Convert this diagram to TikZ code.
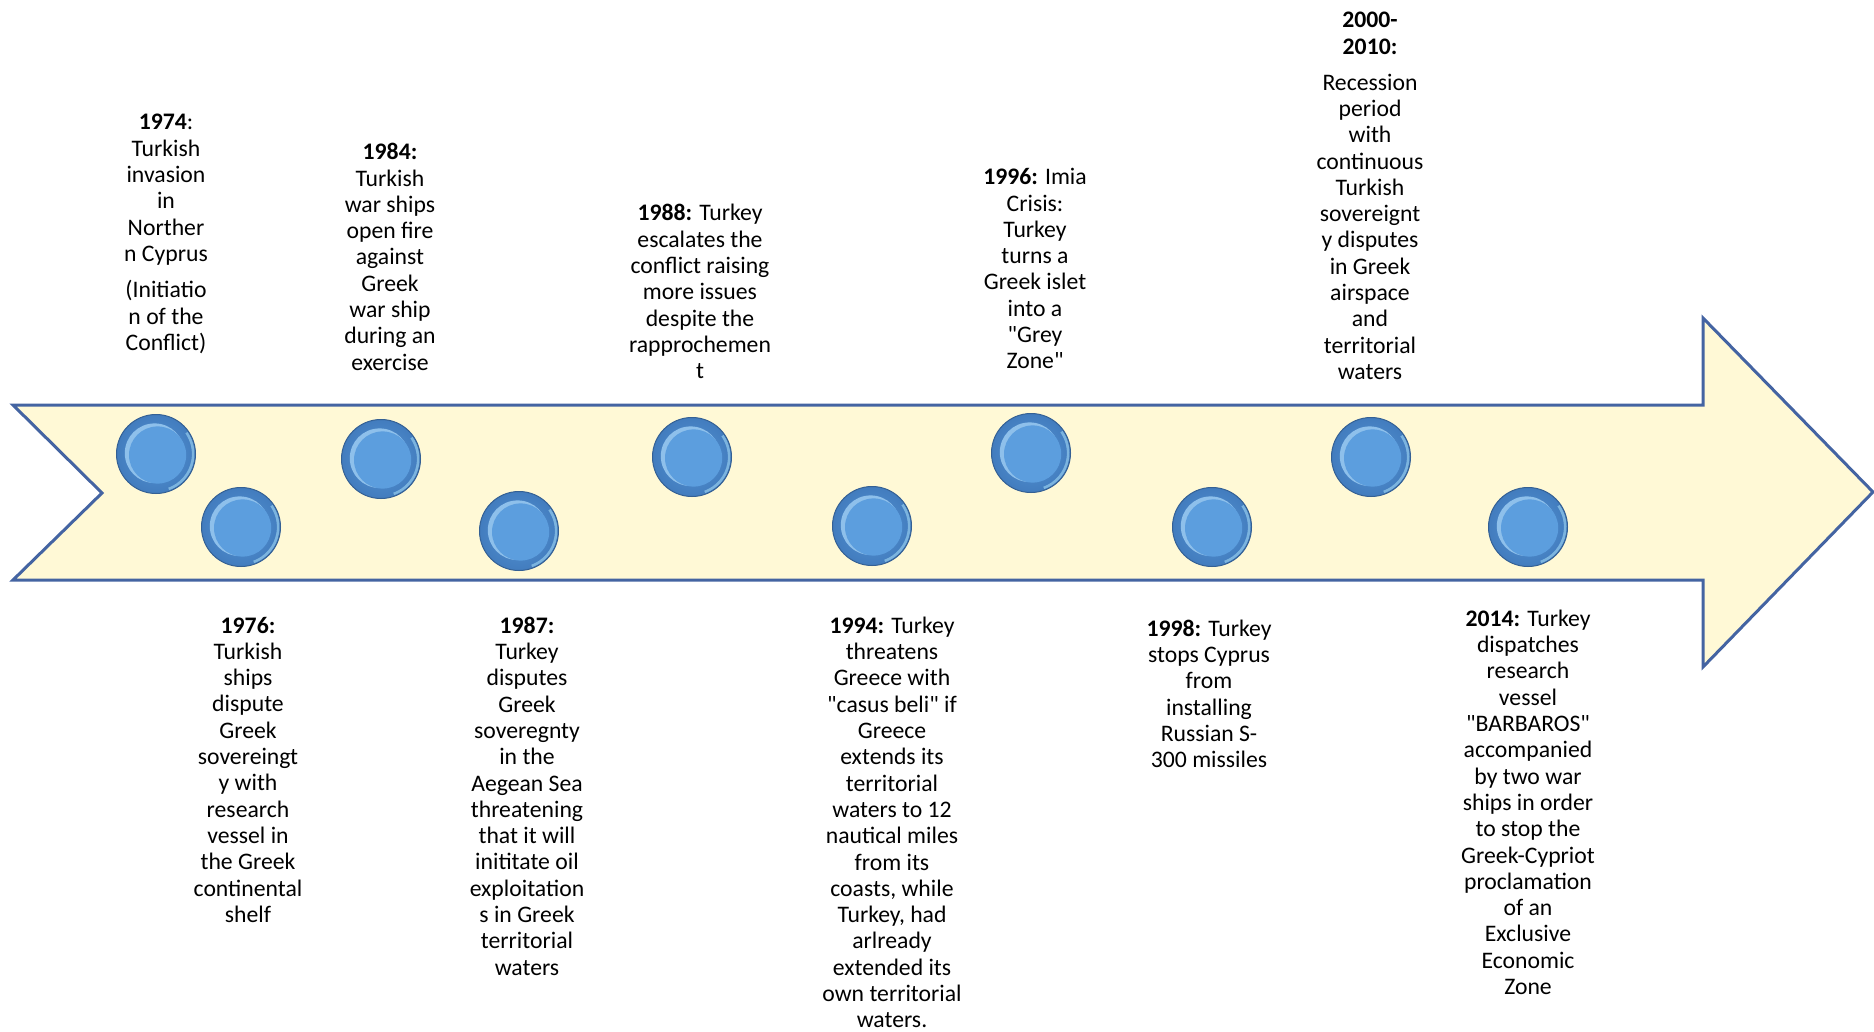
\documentclass[tikz,border=0pt]{standalone}
\usepackage{fontspec}
\setmainfont{Carlito}
\usetikzlibrary{calc}
\definecolor{arrowfill}{RGB}{255,249,214}
\definecolor{arrowline}{RGB}{68,100,162}
\definecolor{dotblue}{RGB}{86,150,213}
\definecolor{dotinner}{RGB}{92,158,222}
\definecolor{dotedge}{RGB}{52,96,148}
\definecolor{dotlight}{RGB}{160,208,245}
\definecolor{dotdark}{RGB}{66,124,190}
\definecolor{dotrim}{RGB}{170,225,250}
\begin{document}
\begin{tikzpicture}[x=0.5pt,y=-0.5pt,
  evt/.style={align=center, inner sep=0pt, anchor=north, text=black,
    font=\fontsize{11.85}{13.15}\selectfont},
  dot/.style={circle, minimum size=39.5pt, inner sep=0pt, draw=dotedge, line width=0.5pt,
    inner color=dotblue, outer color=dotdark,
    path picture={
      \coordinate (pc) at (path picture bounding box.center);
      \draw[dotrim, opacity=0.55, line width=1.3pt]
        ($(pc)+(-70:18.6pt)$) arc[start angle=-70, end angle=35, radius=18.6pt];
      \fill[dotlight, opacity=0.8] ($(pc)+(-0.7pt,0.4pt)$) circle (14.9pt);
      \fill[dotinner] ($(pc)+(0.8pt,-0.5pt)$) circle (14.3pt);
    }}
]
\useasboundingbox (0,0) rectangle (1874,1032);

% timeline arrow
\draw[arrowline, fill=arrowfill, line width=1.5pt, line join=miter]
  (13,405) -- (1703,405) -- (1703,318) -- (1873,492) -- (1703,667) -- (1703,580)
  -- (13,580) -- (102,493) -- cycle;

% milestones
\node[dot] (c1974) at (156,454) {};
\node[dot] (c1976) at (241,527) {};
\node[dot] (c1984) at (381,459) {};
\node[dot] (c1987) at (519,531) {};
\node[dot] (c1988) at (692,457) {};
\node[dot] (c1994) at (872,526) {};
\node[dot] (c1996) at (1031,453) {};
\node[dot] (c1998) at (1212,527) {};
\node[dot] (c2000) at (1371,457) {};
\node[dot] (c2014) at (1528,527) {};

% upper texts
\node[evt] (t1974) at (166,114) {\textbf{1974}:\\Turkish\\invasion\\in\\Norther\\n Cyprus\\[5pt](Initiatio\\n of the\\Conflict)};
\node[evt] (t1984) at (390,143) {\textbf{1984:}\\Turkish\\war ships\\open fire\\against\\Greek\\war ship\\during an\\exercise};
\node[evt] (t1988) at (700,204) {\textbf{1988:} Turkey\\escalates the\\conflict raising\\more issues\\despite the\\rapprochemen\\t};
\node[evt] (t1996) at (1035,168) {\textbf{1996:} Imia\\Crisis:\\Turkey\\turns a\\Greek islet\\into a\\\textquotedbl Grey\\Zone\textquotedbl};
\node[evt] (t2000) at (1370,12) {\textbf{2000-}\\[0pt]\textbf{2010:}\\[4.8pt]Recession\\period\\with\\continuous\\Turkish\\sovereignt\\y disputes\\in Greek\\airspace\\and\\territorial\\waters};

% lower texts
\node[evt] (t1976) at (248,616.5) {\textbf{1976:}\\Turkish\\ships\\dispute\\Greek\\sovereingt\\y with\\research\\vessel in\\the Greek\\continental\\shelf};
\node[evt] (t1987) at (527,616.5) {\textbf{1987:}\\Turkey\\disputes\\Greek\\soveregnty\\in the\\Aegean Sea\\threatening\\that it will\\inititate oil\\exploitation\\s in Greek\\territorial\\waters};
\node[evt] (t1994) at (892,616.5) {\textbf{1994:} Turkey\\threatens\\Greece with\\\textquotedbl casus beli\textquotedbl{} if\\Greece\\extends its\\territorial\\waters to 12\\nautical miles\\from its\\coasts, while\\Turkey, had\\arlready\\extended its\\own territorial\\waters.};
\node[evt] (t1998) at (1209,619.5) {\textbf{1998:} Turkey\\stops Cyprus\\from\\installing\\Russian S-\\300 missiles};
\node[evt] (t2014) at (1528,609.5) {\textbf{2014:} Turkey\\dispatches\\research\\vessel\\\textquotedbl BARBAROS\textquotedbl\\accompanied\\by two war\\ships in order\\to stop the\\Greek-Cypriot\\proclamation\\of an\\Exclusive\\Economic\\Zone};
\end{tikzpicture}
\end{document}
